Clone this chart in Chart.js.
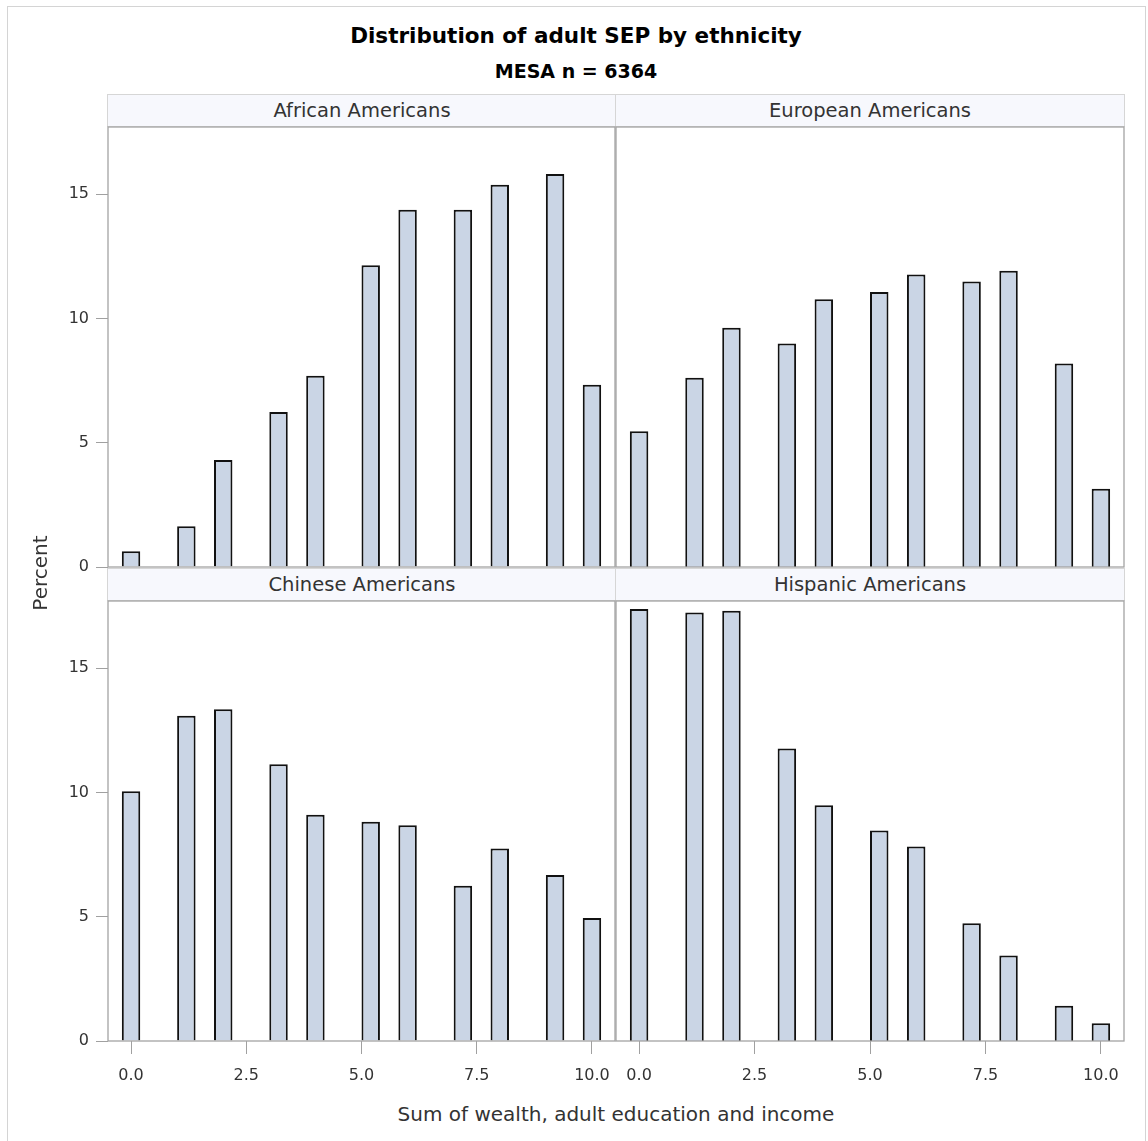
<!DOCTYPE html>
<html>
<head>
<meta charset="utf-8">
<script src="https://cdn.jsdelivr.net/npm/chart.js@4.4.1/dist/chart.umd.min.js"></script>
<style>
  body { margin:0; background:#fff; width:1148px; height:1141px; position:relative; overflow:hidden; font-family:"DejaVu Sans", sans-serif; }
  .frame { position:absolute; left:7px; top:6px; width:1137px; height:1140px; border:1px solid #d4d4d4; border-bottom:none; }
  .title { position:absolute; left:7px; width:1138px; text-align:center; font-weight:bold; color:#000; white-space:nowrap; }
  .strip { position:absolute; height:33px; line-height:31px; background:#f7f8fd; border:1px solid #d6d6d6; box-sizing:border-box; text-align:center; font-size:19.5px; color:#333; white-space:nowrap; }
  .label { position:absolute; text-align:center; font-size:20px; line-height:20px; color:#333; white-space:nowrap; }
  canvas { position:absolute; }
</style>
</head>
<body>
<div class="frame"></div>
<div class="title" style="top:25px; font-size:21.5px; line-height:21.5px;">Distribution of adult SEP by ethnicity</div>
<div class="title" style="top:62px; font-size:19px; line-height:19px;">MESA n = 6364</div>

<div class="strip" style="left:107px; top:94px; width:510px;">African Americans</div>
<div class="strip" style="left:615px; top:94px; width:510px;">European Americans</div>
<div class="strip" style="left:107px; top:568px; width:510px;">Chinese Americans</div>
<div class="strip" style="left:615px; top:568px; width:510px;">Hispanic Americans</div>

<canvas id="tl" width="580" height="455" style="left:40px; top:117px;"></canvas>
<canvas id="tr" width="523" height="455" style="left:606px; top:117px;"></canvas>
<canvas id="bl" width="580" height="495" style="left:40px; top:591px;"></canvas>
<canvas id="br" width="523" height="495" style="left:606px; top:591px;"></canvas>

<div class="label" style="left:-60px; top:563px; width:200px; transform:rotate(-90deg);">Percent</div>
<div class="label" style="left:108px; top:1104px; width:1016px;">Sum of wealth, adult education and income</div>

<script>
// bin midpoints of the histogram (sum score 0..10)
const binMid = [0, 1.2, 2, 3.2, 4, 5.2, 6, 7.2, 8, 9.2, 10];

// percent per bin
const africanAm  = [0.63, 1.64, 4.30, 6.24, 7.69, 12.14, 14.37, 14.37, 15.38, 15.81, 7.33];
const europeanAm = [5.46, 7.61, 9.62, 8.99, 10.77, 11.06, 11.77, 11.48, 11.92, 8.19, 3.15];
const chineseAm  = [10.05, 13.08, 13.35, 11.13, 9.10, 8.82, 8.68, 6.25, 7.74, 6.68, 4.95];
const hispanicAm = [17.38, 17.24, 17.31, 11.77, 9.48, 8.47, 7.82, 4.74, 3.44, 1.42, 0.71];

const xTicks = [0, 2.5, 5, 7.5, 10];
const yTicks = [0, 5, 10, 15];

const tickFont = { family: 'DejaVu Sans', size: 16 };
const tickGray = '#a0a0a0';

// gray box round every plot area
const framePlugin = {
  id: 'frame',
  afterDraw(chart) {
    const ctx = chart.ctx;
    const a = chart.chartArea;
    ctx.save();
    ctx.strokeStyle = '#a4a4a4';
    ctx.lineWidth = 1.3;
    ctx.strokeRect(a.left, a.top, a.right - a.left, a.bottom - a.top);
    ctx.restore();
  }
};

function makePanel(id, values, showX, showY, pad) {
  const ctx = document.getElementById(id).getContext('2d');
  return new Chart(ctx, {
    type: 'bar',
    data: {
      datasets: [{
        data: binMid.map((x, i) => ({ x: x, y: values[i] })),
        backgroundColor: '#cad5e5',
        borderColor: '#111',
        borderWidth: 2,
        categoryPercentage: 1,
        barPercentage: 0.5
      }]
    },
    options: {
      responsive: false,
      animation: false,
      devicePixelRatio: 1,
      layout: { padding: pad },
      plugins: { legend: { display: false }, tooltip: { enabled: false } },
      scales: {
        x: {
          type: 'linear',
          display: showX,
          offset: false,
          min: -0.5,
          max: 10.5,
          afterBuildTicks: s => { s.ticks = xTicks.map(v => ({ value: v })); },
          afterFit: s => {
            s.paddingLeft = 0; s.paddingRight = 0;
            if (showX) s.height = 45;
          },
          grid: { offset: false, drawOnChartArea: false, drawTicks: true, tickLength: 13, tickColor: tickGray, color: tickGray },
          border: { display: false },
          ticks: { font: tickFont, color: '#333', padding: 12, maxRotation: 0, autoSkip: false,
                   callback: v => Number(v).toFixed(1) }
        },
        y: {
          display: showY,
          min: 0,
          max: 17.7,
          afterBuildTicks: s => { s.ticks = yTicks.map(v => ({ value: v })); },
          afterFit: s => {
            s.paddingTop = 0; s.paddingBottom = 0;
            if (showY) s.width = 68;
          },
          grid: { drawOnChartArea: false, drawTicks: true, tickLength: 12, tickColor: tickGray, color: tickGray },
          border: { display: false },
          ticks: { font: tickFont, color: '#333', padding: 7, callback: v => String(v) }
        }
      }
    },
    plugins: [framePlugin]
  });
}

makePanel('tl', africanAm,  false, true,  { top: 10, right: 5, bottom: 5, left: 0 });
makePanel('tr', europeanAm, false, false, { top: 10, right: 5, bottom: 5, left: 10 });
makePanel('bl', chineseAm,  true,  true,  { top: 10, right: 5, bottom: 0, left: 0 });
makePanel('br', hispanicAm, true,  false, { top: 10, right: 5, bottom: 0, left: 10 });
</script>
</body>
</html>
